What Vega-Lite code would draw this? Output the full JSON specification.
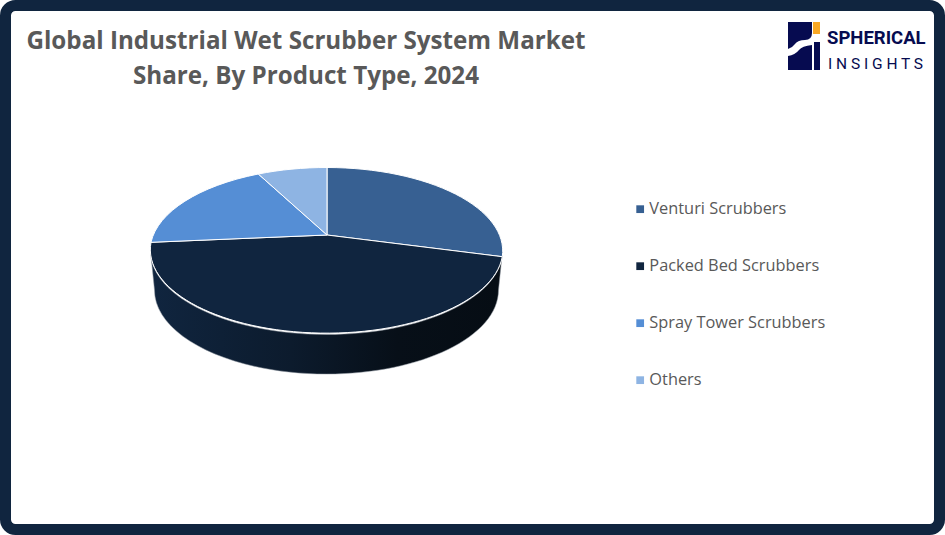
{
"$schema":"https://vega.github.io/schema/vega-lite/v6.json",
"width":945,"height":535,"padding":0,
"autosize":{"type":"fit","contains":"padding"},
"background":"white",
"config":{"view":{"stroke":null},"font":"Open Sans"},
"layer":[
{"data":{"values":[{}]},"mark":{"type":"rect","fill":"white","stroke":"#10253f","strokeWidth":11,"cornerRadius":10},
 "encoding":{"x":{"datum":5.5,"type":"quantitative","scale":{"domain":[0,945],"nice":false,"zero":false},"axis":null},"x2":{"datum":939.5},
 "y":{"datum":5.5,"type":"quantitative","scale":{"domain":[535,0],"nice":false,"zero":false},"axis":null},"y2":{"datum":529.5}}},
{"data":{"values":[{"label":"Global Industrial Wet Scrubber System Market\nShare, By Product Type, 2024"}]},"mark":{"type":"text","align":"center","baseline":"alphabetic","lineBreak":"\n","lineHeight":35,"fontSize":24.2,"fontWeight":"bold","font":"Open Sans","color":"#595959"},
 "encoding":{"text":{"field":"label"},"x":{"datum":306,"type":"quantitative"},"y":{"datum":49,"type":"quantitative"}}},
{"data":{"values":[{}]},"mark":{"type":"point","filled":true,"opacity":1,"size":4,"stroke":"#8a939c","strokeWidth":0.5,
  "shape":"M-176,0 A176,83.5 0 0 0 176,0 L172,39 A172,84 0 0 1 -172,39 Z",
  "fill":{"x1":0,"y1":0,"x2":1,"y2":0,"gradient":"linear","stops":[{"offset":0,"color":"#10253f"},{"offset":0.4,"color":"#0c1b2d"},{"offset":0.7,"color":"#070f18"},{"offset":1,"color":"#060d14"}]}},
 "encoding":{"x":{"datum":326.5,"type":"quantitative"},"y":{"datum":251,"type":"quantitative"}}},
{"data":{"values":[
  {"type":"Venturi Scrubbers","share":28},
  {"type":"Packed Bed Scrubbers","share":46},
  {"type":"Spray Tower Scrubbers","share":19},
  {"type":"Others","share":7}]},
 "mark":{"type":"point","filled":true,"opacity":1,"size":4,"stroke":"white","strokeWidth":1},
 "encoding":{"x":{"datum":326.5,"type":"quantitative"},"y":{"datum":251,"type":"quantitative"},
  "color":{"field":"type","type":"nominal","sort":null,
   "scale":{"domain":["Venturi Scrubbers","Packed Bed Scrubbers","Spray Tower Scrubbers","Others"],"range":["#376092","#10253f","#558ed5","#8eb4e3"]},
   "legend":{"title":null,"orient":"none","legendX":632,"legendY":201,"symbolType":"square","symbolSize":60,"symbolStrokeWidth":0,"labelFontSize":16.35,"labelFont":"Open Sans","labelColor":"#595959","rowPadding":40,"labelOffset":1,"labelLimit":300}},
  "shape":{"field":"share","type":"nominal","sort":null,"legend":null,
   "scale":{"domain":[28,46,19,7],"range":[
    "M0.5,-16 L0.5,-83.5 A176,83.5 0 0 1 175.8,5.7 Z",
    "M0.5,-16 L175.8,5.7 A176,83.5 0 1 1 -175.5,-8.7 Z",
    "M0.5,-16 L-175.5,-8.7 A176,83.5 0 0 1 -68.2,-77 Z",
    "M0.5,-16 L-68.2,-77 A176,83.5 0 0 1 0.5,-83.5 Z"]}},
  "tooltip":{"field":"share","type":"quantitative"}}},
{"data":{"values":[{}]},"mark":{"type":"point","filled":true,"opacity":1,"size":4,"fill":"#060b50","strokeWidth":0,
  "shape":"M-16,-24 L8,-24 L8,-13 Q8,-6 1,-6 Q-6,-6 -9,-2 Q-12,2 -16,3 Z M-16,10 Q-9,9 -5,4 Q-2,0 8,-1 L8,24 L-16,24 Z M10,-4 L16,-4 L16,24 L10,24 Z"},
 "encoding":{"x":{"datum":804,"type":"quantitative"},"y":{"datum":46,"type":"quantitative"}}},
{"data":{"values":[{}]},"mark":{"type":"point","filled":true,"opacity":1,"size":4,"fill":"#f9a825","strokeWidth":0,
  "shape":"M-3.5,-6 L3.5,-6 L3.5,6 L-3.5,6 Z"},
 "encoding":{"x":{"datum":816.5,"type":"quantitative"},"y":{"datum":28,"type":"quantitative"}}},
{"data":{"values":[{"label":"SPHERICAL"}]},"mark":{"type":"text","align":"left","baseline":"alphabetic","font":"Roboto","fontWeight":"bold","fontSize":18.5,"color":"#060b50"},
 "encoding":{"text":{"field":"label"},"x":{"datum":827,"type":"quantitative"},"y":{"datum":44,"type":"quantitative"}}},
{"data":{"values":[{"label":"I N S I G H T S"}]},"mark":{"type":"text","align":"left","baseline":"alphabetic","font":"Roboto","fontWeight":"normal","fontSize":15.5,"color":"#060b50"},
 "encoding":{"text":{"field":"label"},"x":{"datum":828,"type":"quantitative"},"y":{"datum":69,"type":"quantitative"}}}
]
}
